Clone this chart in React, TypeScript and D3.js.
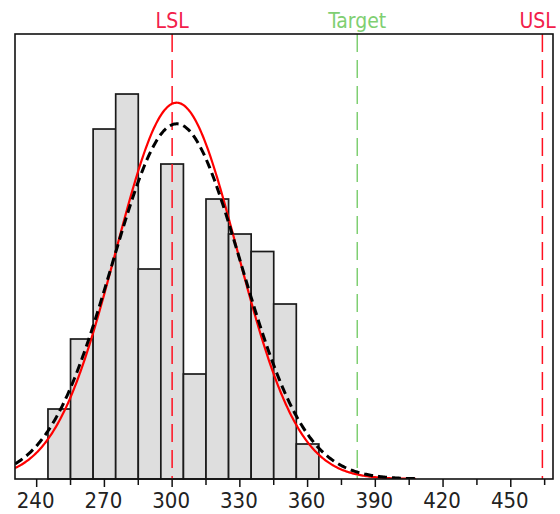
import React, { useEffect, useRef } from "react"
import * as d3 from "d3"

// histogram: bin start values (width 10) and counts
const binStarts = [245, 255, 265, 275, 285, 295, 305, 315, 325, 335, 345, 355]
const binCounts = [4, 8, 20, 22, 12, 18, 6, 16, 14, 13, 10, 2]
const binWidth = 10

// spec limits (vertical dashed lines)
const specNames = ["LSL", "Target", "USL"]
const specValues = [300, 382, 464]
const specColors = ["#ff1020", "#7fcf72", "#ff1020"]
const specTextColors = ["#f2204a", "#7fcf72", "#f2204a"]

// axis
const xTicks = [240, 270, 300, 330, 360, 390, 420, 450]
const xMinorTicks = [255, 285, 315, 345, 375, 405, 435, 465]
const xDomain = [230.4, 468.7]
const yMax = 25.43

// normal fits: within (red, solid) and overall (black, dashed)
const fitMean = 302
const sigmaWithin = 26.9
const sigmaOverall = 28.5
const curveEnd = 408

const W = 560
const H = 514
const margin = { top: 34, right: 7, bottom: 35, left: 15 }
const FONT = 'Tahoma, "DejaVu Sans Condensed", "DejaVu Sans", sans-serif'

export default function App() {
  const ref = useRef<SVGSVGElement>(null)

  useEffect(() => {
    document.body.style.margin = "0"
    const svg = d3.select(ref.current)
    svg.selectAll("*").remove()

    const x = d3.scaleLinear().domain(xDomain).range([margin.left, W - margin.right])
    const y = d3.scaleLinear().domain([0, yMax]).range([H - margin.bottom, margin.top])
    const total = d3.sum(binCounts)

    svg.append("defs").append("clipPath").attr("id", "plotclip")
      .append("rect")
      .attr("x", margin.left).attr("y", margin.top)
      .attr("width", W - margin.left - margin.right)
      .attr("height", H - margin.top - margin.bottom)

    // bars
    svg.append("g").selectAll("rect")
      .data(binCounts)
      .join("rect")
      .attr("x", (d, i) => x(binStarts[i]))
      .attr("y", d => y(d))
      .attr("width", (d, i) => x(binStarts[i] + binWidth) - x(binStarts[i]))
      .attr("height", d => y(0) - y(d))
      .attr("fill", "#dedede")
      .attr("stroke", "#1a1a1a")
      .attr("stroke-width", 1.7)

    // spec lines
    svg.append("g").selectAll("line")
      .data(specValues)
      .join("line")
      .attr("x1", d => x(d)).attr("x2", d => x(d))
      .attr("y1", margin.top).attr("y2", H - margin.bottom)
      .attr("stroke", (d, i) => specColors[i])
      .attr("stroke-width", 1.5)
      .attr("stroke-dasharray", "18,8")

    // fitted curves
    const density = (v: number, s: number) =>
      total * binWidth / (s * Math.sqrt(2 * Math.PI)) * Math.exp(-0.5 * ((v - fitMean) / s) ** 2)
    const pts = d3.range(xDomain[0], curveEnd, 0.5)
    const g = svg.append("g").attr("clip-path", "url(#plotclip)")
    g.append("path")
      .datum(pts)
      .attr("d", d3.line<number>().x(d => x(d)).y(d => y(density(d, sigmaWithin))))
      .attr("fill", "none")
      .attr("stroke", "#ff0000")
      .attr("stroke-width", 2.2)
    g.append("path")
      .datum(pts)
      .attr("d", d3.line<number>().x(d => x(d)).y(d => y(density(d, sigmaOverall))))
      .attr("fill", "none")
      .attr("stroke", "#000")
      .attr("stroke-width", 3)
      .attr("stroke-dasharray", "9,5")

    // frame
    svg.append("rect")
      .attr("x", margin.left).attr("y", margin.top)
      .attr("width", W - margin.left - margin.right)
      .attr("height", H - margin.top - margin.bottom)
      .attr("fill", "none")
      .attr("stroke", "#111")
      .attr("stroke-width", 1.6)

    // x axis ticks
    const ax = svg.append("g")
    ax.selectAll("line.major")
      .data(xTicks)
      .join("line")
      .attr("class", "major")
      .attr("x1", d => x(d)).attr("x2", d => x(d))
      .attr("y1", H - margin.bottom).attr("y2", H - margin.bottom + 8)
      .attr("stroke", "#111").attr("stroke-width", 1.5)
    ax.selectAll("line.minor")
      .data(xMinorTicks)
      .join("line")
      .attr("class", "minor")
      .attr("x1", d => x(d)).attr("x2", d => x(d))
      .attr("y1", H - margin.bottom).attr("y2", H - margin.bottom + 6)
      .attr("stroke", "#111").attr("stroke-width", 1.5)
    ax.selectAll("text")
      .data(xTicks)
      .join("text")
      .attr("x", d => x(d) - 1)
      .attr("y", 508)
      .attr("text-anchor", "middle")
      .attr("font-family", FONT)
      .attr("font-size", 22)
      .attr("fill", "#222")
      .text(d => d)

    // spec labels
    const labels = svg.append("g").selectAll("text")
      .data(specValues)
      .join("text")
      .attr("x", d => x(d))
      .attr("y", 28)
      .attr("text-anchor", "middle")
      .attr("font-family", FONT)
      .attr("font-size", 21)
      .attr("fill", (d, i) => specTextColors[i])
      .text((d, i) => specNames[i])
    // keep labels inside the picture
    labels.each(function () {
      const el = this as SVGTextElement
      const b = el.getBBox()
      if (b.x + b.width > W - 4) {
        el.setAttribute("x", String(W - 4 - b.width / 2))
      }
    })
  }, [])

  return <svg ref={ref} width={W} height={H} style={{ display: "block" }} />
}
